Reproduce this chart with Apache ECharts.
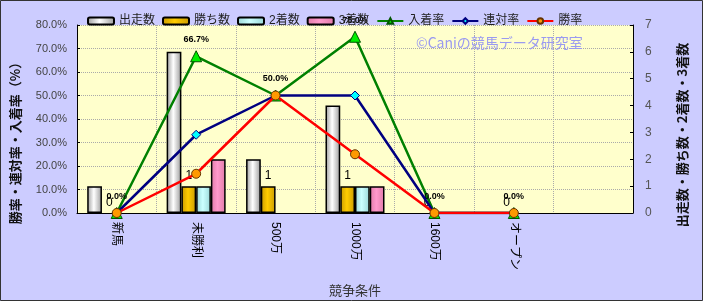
<!DOCTYPE html>
<html><head><meta charset="utf-8">
<script src="https://cdn.jsdelivr.net/npm/echarts@6/dist/echarts.min.js"></script>
<style>html,body{margin:0;padding:0;background:#ccccff;}#c{width:703px;height:301px;}</style>
</head><body><div id="c"></div>
<script>
const categories = ['新馬', '未勝利', '500万', '1000万', '1600万', 'オープン', ''];
const runs = [1, 6, 2, 4, 0, 0, null];
const wins = [0, 1, 1, 1, 0, 0, null];
const seconds = [0, 1, 0, 1, 0, 0, null];
const thirds = [0, 2, 0, 1, 0, 0, null];
const placeRate = [0, 66.7, 50.0, 75.0, 0, 0, null];
const quinellaRate = [0, 33.3, 50.0, 50.0, 0, 0, null];
const winRate = [0, 16.7, 50.0, 25.0, 0, 0, null];
const leftTicks = { min: 0, max: 80, interval: 10 };
const rightTicks = { min: 0, max: 7, interval: 1 };

const FF = "'Liberation Sans','Noto Sans CJK JP',sans-serif";
function grad(edge, mid) {
  return new echarts.graphic.LinearGradient(0, 0, 1, 0, [
    { offset: 0, color: edge }, { offset: 0.45, color: mid }, { offset: 1, color: edge }
  ]);
}
// hide the border of zero-height bars
function barItems(arr) {
  return arr.map(v => (v === 0 ? { value: v, itemStyle: { borderWidth: 0 } } : v));
}
const chart = echarts.init(document.getElementById('c'));
const barBase = { type: 'bar', yAxisIndex: 1, barGap: '0%', barCategoryGap: '25.7%' };
chart.setOption({
  animation: false,
  backgroundColor: '#ccccff',
  textStyle: { fontFamily: FF },
  grid: { left: 77, right: 70, top: 25, bottom: 88, show: true, backgroundColor: '#ffffcc', borderWidth: 0, outerBoundsMode: 'none', containLabel: false },
  legend: {
    left: 82, top: 10, itemWidth: 26, itemHeight: 7, itemGap: 7,
    textStyle: { fontSize: 12, color: '#222', fontFamily: FF },
    data: ['出走数', '勝ち数', '2着数', '3着数', '入着率', '連対率', '勝率']
  },
  graphic: [
    { type: 'text', x: 416, y: 43, style: { text: '©Caniの競馬データ研究室', fill: '#9a9af0', font: "14px 'Noto Sans CJK JP'", textVerticalAlign: 'middle' }, z: 1 },
    { type: 'text', x: 15, y: 140, rotation: Math.PI / 2, style: { text: '勝率・連対率・入着率（%）', fill: '#111', font: "bold 13px 'Noto Sans CJK JP'", textAlign: 'center', textVerticalAlign: 'middle' } },
    { type: 'text', x: 682, y: 135, rotation: Math.PI / 2, style: { text: '出走数・勝ち数・2着数・3着数', fill: '#111', font: "bold 13px 'Noto Sans CJK JP'", textAlign: 'center', textVerticalAlign: 'middle' } },
    { type: 'rect', shape: { x: 0.5, y: 0.5, width: 702, height: 300 }, style: { fill: 'none', stroke: '#333', lineWidth: 1 } }
  ],
  xAxis: {
    type: 'category', data: categories,
    name: '競争条件', nameLocation: 'middle', nameGap: 72,
    nameTextStyle: { fontSize: 13, color: '#333' },
    axisLine: { lineStyle: { color: '#000', width: 1 } },
    axisTick: { show: false },
    axisLabel: { rotate: -90, fontSize: 12, color: '#000', margin: 9, interval: 0 },
    splitLine: { show: true, lineStyle: { color: '#aaa', type: 'dotted' } }
  },
  yAxis: [
    {
      type: 'value', min: leftTicks.min, max: leftTicks.max, interval: leftTicks.interval,
      axisLine: { show: true, lineStyle: { color: '#000' } },
      axisTick: { show: true, inside: true, length: 3, lineStyle: { color: '#000' } },
      axisLabel: { formatter: v => v.toFixed(1) + '%', fontSize: 11, color: '#444', margin: 10 },
      splitLine: { show: true, lineStyle: { color: '#aaa', type: 'dotted' } }
    },
    {
      type: 'value', min: rightTicks.min, max: rightTicks.max, interval: rightTicks.interval,
      axisLine: { show: true, lineStyle: { color: '#000' } },
      axisTick: { show: true, inside: true, length: 3, lineStyle: { color: '#000' } },
      axisLabel: { fontSize: 12, color: '#555', margin: 12 },
      splitLine: { show: false }
    }
  ],
  series: [
    Object.assign({}, barBase, { name: '出走数', data: barItems(runs), itemStyle: { color: grad('#9a9a9a', '#ffffff'), borderColor: '#000', borderWidth: 1.5 } }),
    Object.assign({}, barBase, { name: '勝ち数', data: barItems(wins), itemStyle: { color: grad('#c89a00', '#ffcc00'), borderColor: '#000', borderWidth: 1.5 },
      label: { show: true, position: 'top', distance: 4, fontSize: 12, color: '#000' } }),
    Object.assign({}, barBase, { name: '2着数', data: barItems(seconds), itemStyle: { color: grad('#99d6d6', '#ccffff'), borderColor: '#000', borderWidth: 1.5 } }),
    Object.assign({}, barBase, { name: '3着数', data: barItems(thirds), itemStyle: { color: grad('#e07aa8', '#ff99cc'), borderColor: '#000', borderWidth: 1.5 } }),
    { name: '入着率', type: 'line', yAxisIndex: 0, data: placeRate, symbol: 'triangle', symbolSize: 11,
      lineStyle: { color: '#008000', width: 2.5 }, itemStyle: { color: '#00ee00', borderColor: '#005500', borderWidth: 1 },
      label: { show: true, position: 'top', distance: 6, formatter: p => p.value.toFixed(1) + '%', fontSize: 9, fontWeight: 'bold', color: '#000' }, z: 3 },
    { name: '連対率', type: 'line', yAxisIndex: 0, data: quinellaRate, symbol: 'diamond', symbolSize: 9,
      lineStyle: { color: '#000080', width: 2.5 }, itemStyle: { color: '#00ffff', borderColor: '#000080', borderWidth: 1 }, z: 4 },
    { name: '勝率', type: 'line', yAxisIndex: 0, data: winRate, symbol: 'circle', symbolSize: 9,
      lineStyle: { color: '#ff0000', width: 2.5 }, itemStyle: { color: '#ff9900', borderColor: '#663300', borderWidth: 1 }, z: 5 }
  ]
});
</script></body></html>
